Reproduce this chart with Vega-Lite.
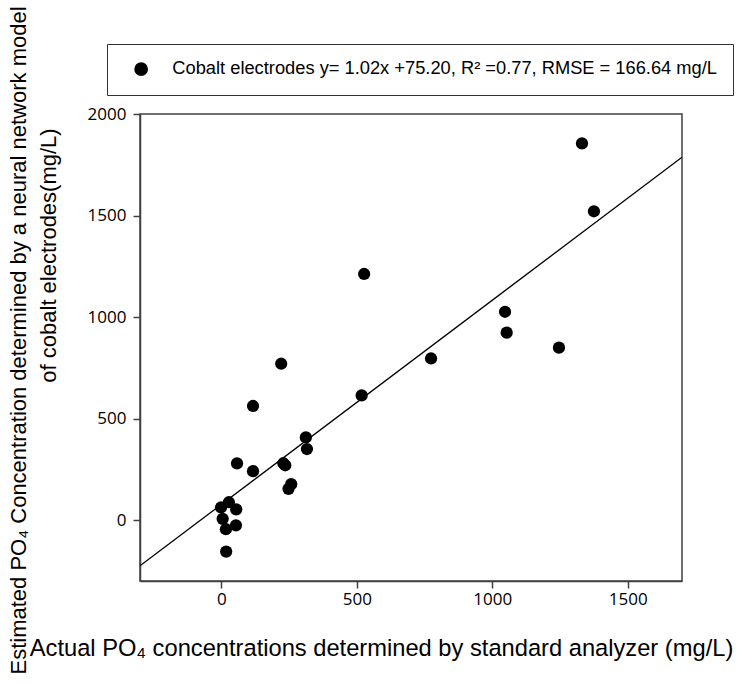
{
  "$schema": "https://vega.github.io/schema/vega-lite/v6.json",
  "width": 542,
  "height": 467,
  "autosize": "none",
  "padding": {"left": 140, "top": 114, "right": 57, "bottom": 103},
  "background": "white",
  "config": {
    "view": {"stroke": "#404040", "strokeWidth": 1.5},
    "axis": {
      "grid": false,
      "domainColor": "#404040",
      "domainWidth": 1.5,
      "tickColor": "#404040",
      "tickWidth": 1.5,
      "tickSize": 7,
      "format": "d",
      "labelFont": "Open Sans",
      "labelFontSize": 17,
      "labelColor": "black",
      "labelPadding": 7,
      "titleFont": "Liberation Sans",
      "titleFontSize": 22,
      "titleFontWeight": "normal",
      "titleColor": "black"
    }
  },
  "title": {
    "text": "of cobalt electrodes(mg/L)",
    "orient": "left",
    "anchor": "middle",
    "frame": "group",
    "offset": -54,
    "dx": 92,
    "font": "Liberation Sans",
    "fontSize": 22,
    "fontWeight": "normal",
    "color": "black"
  },
  "encoding": {
    "x": {
      "field": "x",
      "type": "quantitative",
      "scale": {"domain": [-300, 1700], "nice": false, "zero": false},
      "axis": {
        "values": [0, 500, 1000, 1500],
        "labelPadding": 3,
        "title": "Actual PO₄ concentrations determined by standard analyzer (mg/L)",
        "titleFontSize": 23.7,
        "titleX": 241,
        "titleY": 67,
        "titleAlign": "center",
        "titleBaseline": "middle"
      }
    },
    "y": {
      "field": "y",
      "type": "quantitative",
      "scale": {"domain": [-300, 2000], "nice": false, "zero": false},
      "axis": {
        "values": [0, 500, 1000, 1500, 2000],
        "title": "Estimated PO₄ Concentration determined by a neural network model",
        "titleX": -122,
        "titleY": 226,
        "titleAngle": -90,
        "titleAlign": "center",
        "titleBaseline": "middle"
      }
    }
  },
  "layer": [
    {
      "data": {"values": [{"x": -300, "y": -225}, {"x": 1700, "y": 1787}]},
      "mark": {"type": "line", "color": "black", "strokeWidth": 1.3, "clip": true}
    },
    {
      "data": {
        "values": [
          {"x": -1, "y": 62, "series": "Cobalt electrodes y= 1.02x +75.20, R² =0.77, RMSE = 166.64 mg/L"},
          {"x": 28, "y": 88, "series": "Cobalt electrodes y= 1.02x +75.20, R² =0.77, RMSE = 166.64 mg/L"},
          {"x": 55, "y": 53, "series": "Cobalt electrodes y= 1.02x +75.20, R² =0.77, RMSE = 166.64 mg/L"},
          {"x": 5, "y": 6, "series": "Cobalt electrodes y= 1.02x +75.20, R² =0.77, RMSE = 166.64 mg/L"},
          {"x": 17, "y": -45, "series": "Cobalt electrodes y= 1.02x +75.20, R² =0.77, RMSE = 166.64 mg/L"},
          {"x": 54, "y": -26, "series": "Cobalt electrodes y= 1.02x +75.20, R² =0.77, RMSE = 166.64 mg/L"},
          {"x": 18, "y": -155, "series": "Cobalt electrodes y= 1.02x +75.20, R² =0.77, RMSE = 166.64 mg/L"},
          {"x": 58, "y": 279, "series": "Cobalt electrodes y= 1.02x +75.20, R² =0.77, RMSE = 166.64 mg/L"},
          {"x": 117, "y": 241, "series": "Cobalt electrodes y= 1.02x +75.20, R² =0.77, RMSE = 166.64 mg/L"},
          {"x": 117, "y": 562, "series": "Cobalt electrodes y= 1.02x +75.20, R² =0.77, RMSE = 166.64 mg/L"},
          {"x": 221, "y": 770, "series": "Cobalt electrodes y= 1.02x +75.20, R² =0.77, RMSE = 166.64 mg/L"},
          {"x": 229, "y": 280, "series": "Cobalt electrodes y= 1.02x +75.20, R² =0.77, RMSE = 166.64 mg/L"},
          {"x": 236, "y": 270, "series": "Cobalt electrodes y= 1.02x +75.20, R² =0.77, RMSE = 166.64 mg/L"},
          {"x": 248, "y": 154, "series": "Cobalt electrodes y= 1.02x +75.20, R² =0.77, RMSE = 166.64 mg/L"},
          {"x": 258, "y": 177, "series": "Cobalt electrodes y= 1.02x +75.20, R² =0.77, RMSE = 166.64 mg/L"},
          {"x": 312, "y": 407, "series": "Cobalt electrodes y= 1.02x +75.20, R² =0.77, RMSE = 166.64 mg/L"},
          {"x": 316, "y": 350, "series": "Cobalt electrodes y= 1.02x +75.20, R² =0.77, RMSE = 166.64 mg/L"},
          {"x": 518, "y": 614, "series": "Cobalt electrodes y= 1.02x +75.20, R² =0.77, RMSE = 166.64 mg/L"},
          {"x": 527, "y": 1212, "series": "Cobalt electrodes y= 1.02x +75.20, R² =0.77, RMSE = 166.64 mg/L"},
          {"x": 774, "y": 796, "series": "Cobalt electrodes y= 1.02x +75.20, R² =0.77, RMSE = 166.64 mg/L"},
          {"x": 1047, "y": 1026, "series": "Cobalt electrodes y= 1.02x +75.20, R² =0.77, RMSE = 166.64 mg/L"},
          {"x": 1053, "y": 923, "series": "Cobalt electrodes y= 1.02x +75.20, R² =0.77, RMSE = 166.64 mg/L"},
          {"x": 1246, "y": 849, "series": "Cobalt electrodes y= 1.02x +75.20, R² =0.77, RMSE = 166.64 mg/L"},
          {"x": 1331, "y": 1855, "series": "Cobalt electrodes y= 1.02x +75.20, R² =0.77, RMSE = 166.64 mg/L"},
          {"x": 1375, "y": 1521, "series": "Cobalt electrodes y= 1.02x +75.20, R² =0.77, RMSE = 166.64 mg/L"}
        ]
      },
      "mark": {"type": "point", "filled": true, "shape": "circle", "size": 150, "opacity": 1},
      "encoding": {
        "color": {
          "field": "series",
          "type": "nominal",
          "scale": {"range": ["black"]},
          "legend": {
            "title": null,
            "orient": "none",
            "legendX": -33,
            "legendY": -70,
            "padding": 16,
            "symbolOffset": 9,
            "labelOffset": 22,
            "labelFont": "Liberation Sans",
            "labelFontSize": 18.3,
            "labelColor": "black",
            "labelLimit": 700,
            "symbolSize": 150,
            "symbolType": "circle",
            "symbolFillColor": "black",
            "symbolStrokeColor": "black",
            "fillColor": "white",
            "strokeColor": "#333333"
          }
        }
      }
    }
  ]
}
